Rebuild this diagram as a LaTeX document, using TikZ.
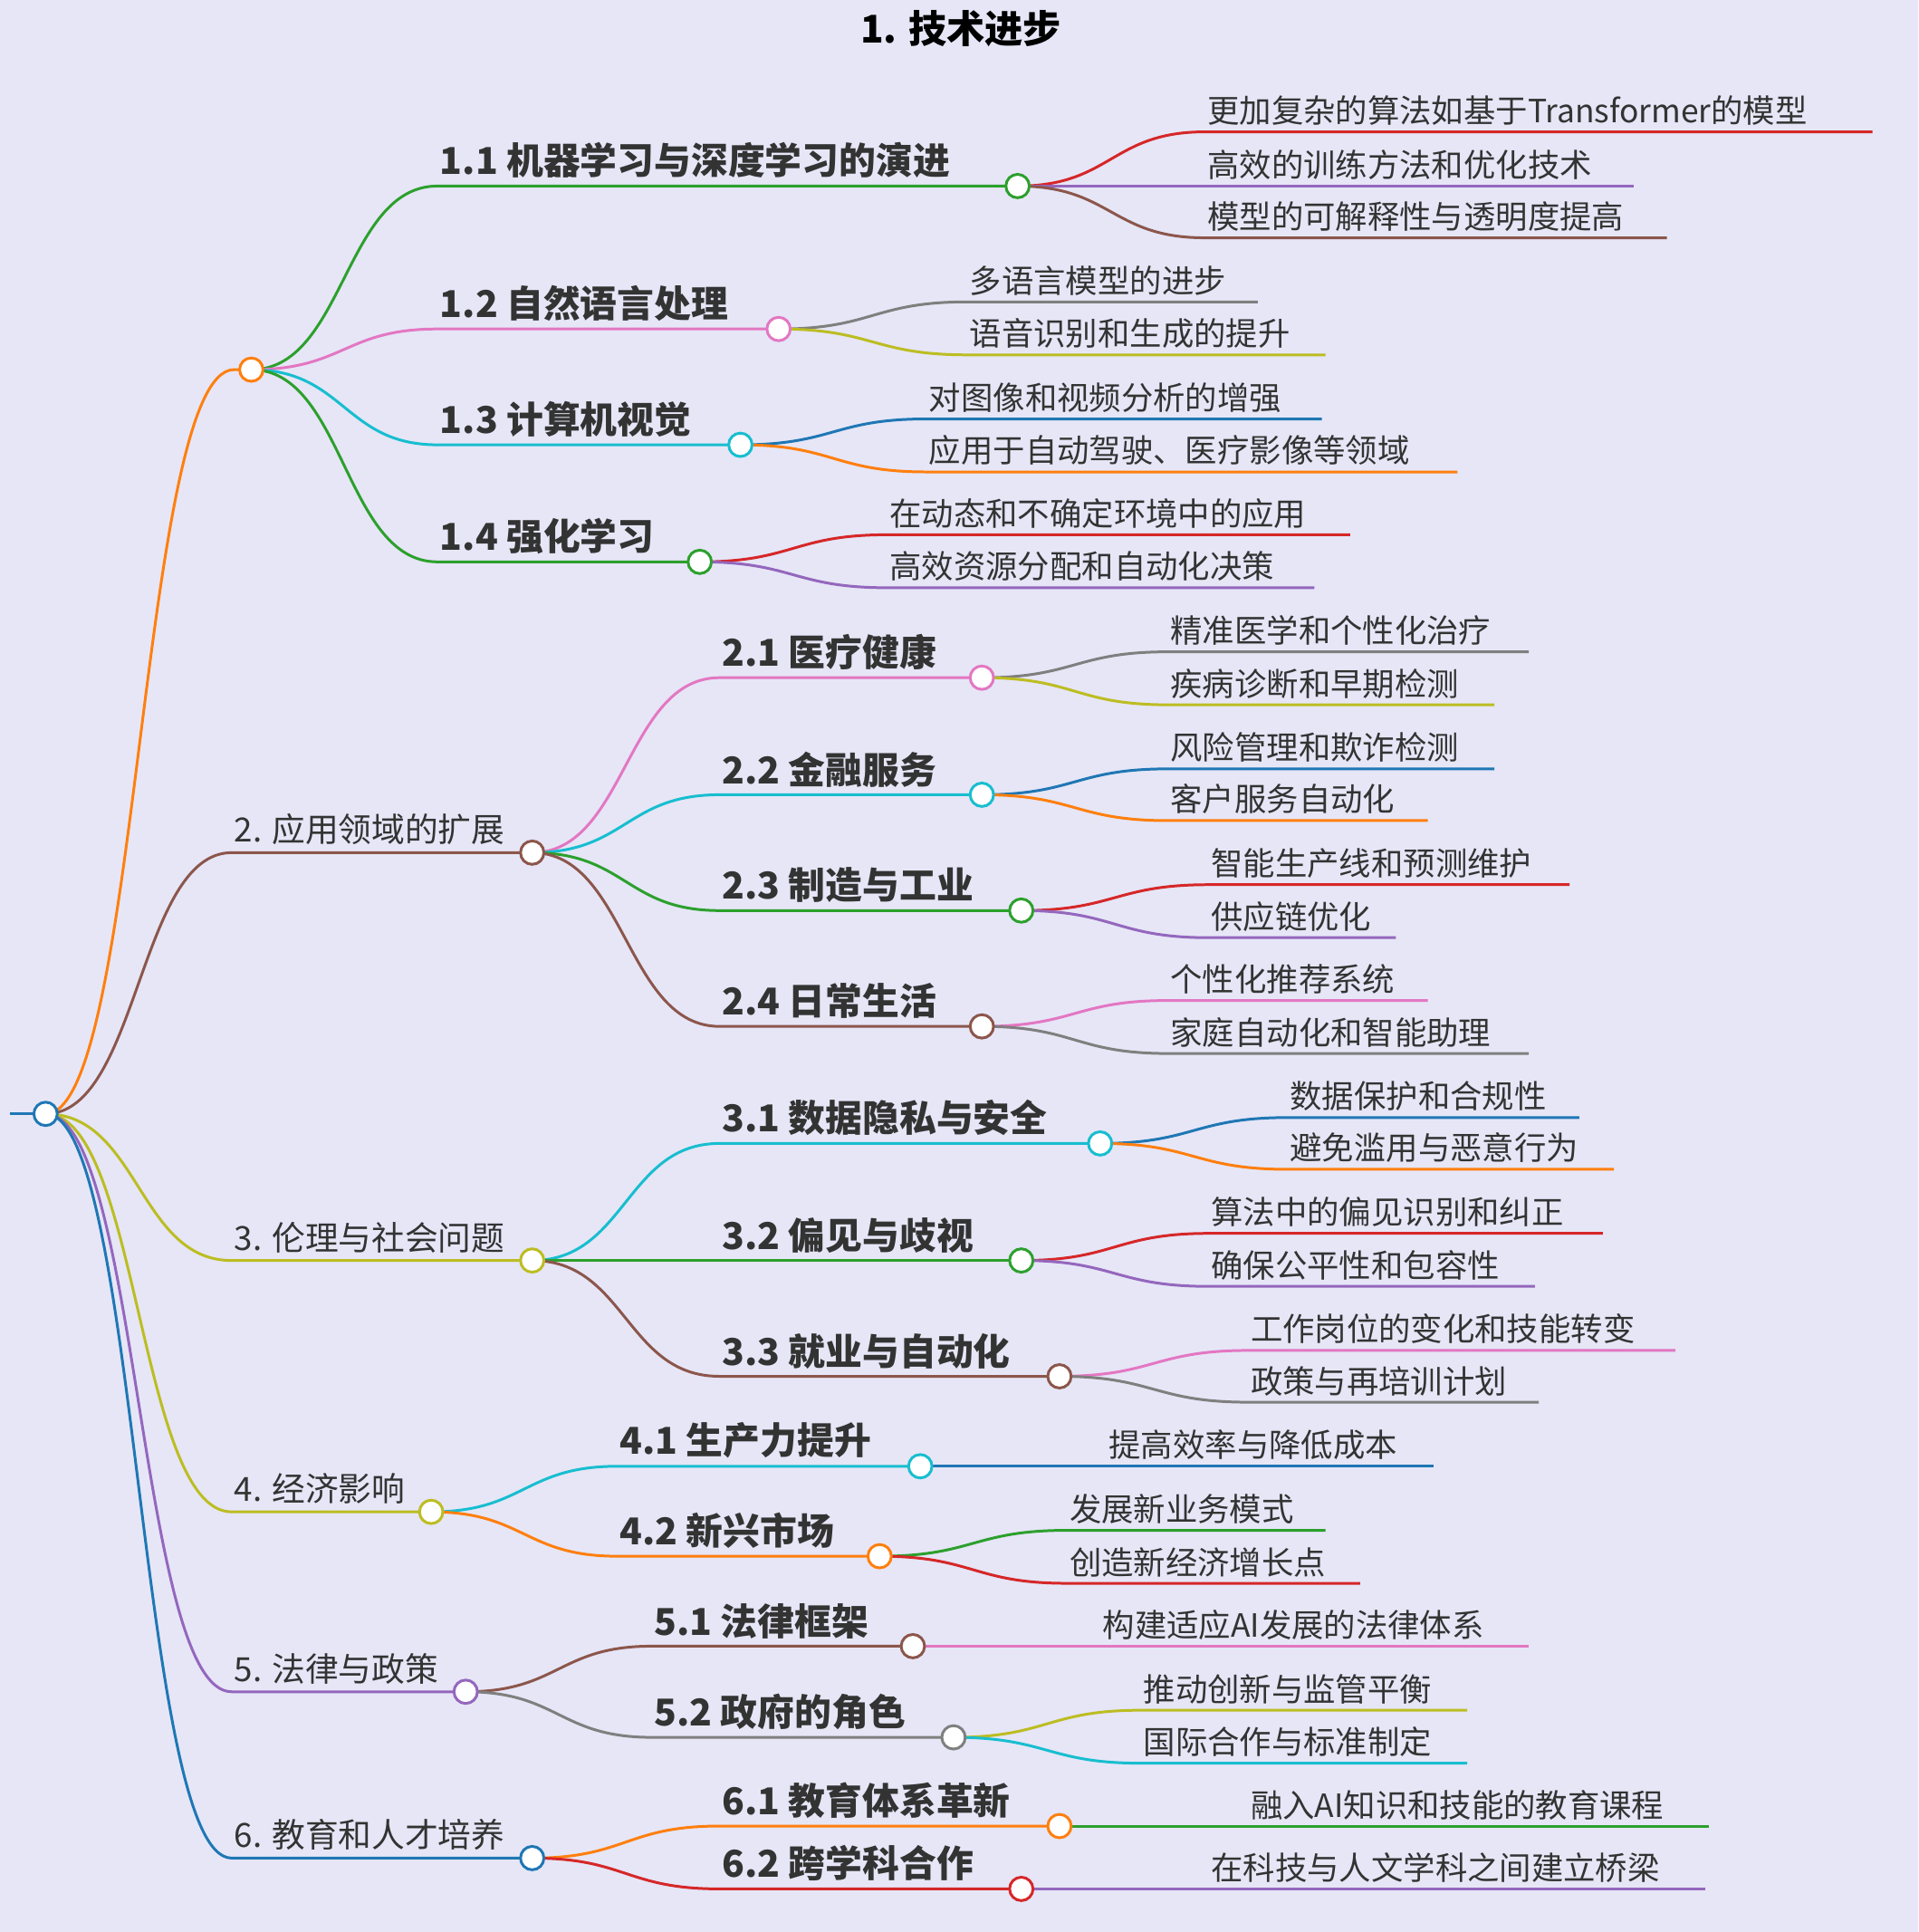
\documentclass[tikz,border=0pt]{standalone}
\usepackage{fontspec}
\setmainfont{Noto Sans CJK SC}
\definecolor{bg}{HTML}{E6E6F7}
\definecolor{cB}{HTML}{1F77B4}\definecolor{cO}{HTML}{FF7F0E}\definecolor{cG}{HTML}{2CA02C}
\definecolor{cR}{HTML}{D62728}\definecolor{cP}{HTML}{9467BD}\definecolor{cN}{HTML}{8C564B}
\definecolor{cK}{HTML}{E377C2}\definecolor{cY}{HTML}{7F7F7F}\definecolor{cL}{HTML}{BCBD22}
\definecolor{cC}{HTML}{17BECF}\definecolor{tx}{HTML}{333333}
\newcommand\mmedge[6]{\draw[#6,line width=2.2pt] (#1,#2) .. controls ({(#1+#3)/2},#2) and ({(#1+#3)/2},#4) .. (#3,#4) -- (#5,#4);}
\newcommand\mmdot[4]{\node[circle,draw=#3,fill=white,line width=2.2pt,minimum size=19pt,inner sep=0] (#4) at (#1,#2) {};}
\tikzset{lone/.style={anchor=south west,inner sep=0,text=tx,font=\fontsize{27}{27}\selectfont},
ltwo/.style={anchor=south west,inner sep=0,text=tx,font=\fontsize{30}{30}\selectfont\bfseries},
leaf/.style={anchor=south west,inner sep=0,text=tx,font=\fontsize{26}{26}\selectfont}}
\begin{document}
\begin{tikzpicture}[x=1pt,y=-1pt]
\fill[bg] (0,0) rectangle (1557,1568);
\useasboundingbox (0,0) rectangle (1557,1568);
\node[anchor=south,inner sep=0,text=black,font=\fontsize{31}{31}\selectfont\bfseries] (title) at (780,38) {1. 技术进步};
% level 1
\draw[cB,line width=2.2pt] (8,904) -- (37,904);
\mmedge{37}{904}{190}{300}{204}{cO}
\mmedge{37}{904}{188}{692}{432}{cN}
\mmedge{37}{904}{188}{1023}{432}{cL}
\mmedge{37}{904}{188}{1227}{350}{cL}
\mmedge{37}{904}{188}{1373}{378}{cP}
\mmedge{37}{904}{188}{1508}{432}{cB}
\node[lone] (n2) at (190,686) {2. 应用领域的扩展};
\node[lone] (n3) at (190,1017) {3. 伦理与社会问题};
\node[lone] (n4) at (190,1221) {4. 经济影响};
\node[lone] (n5) at (190,1367) {5. 法律与政策};
\node[lone] (n6) at (190,1502) {6. 教育和人才培养};
% level 2
\mmedge{204}{300}{355}{151}{826}{cG}\node[ltwo] (n11) at (357,145) {1.1 机器学习与深度学习的演进};
\mmedge{204}{300}{355}{267}{632}{cK}\node[ltwo] (n12) at (357,261) {1.2 自然语言处理};
\mmedge{204}{300}{355}{361}{601}{cC}\node[ltwo] (n13) at (357,355) {1.3 计算机视觉};
\mmedge{204}{300}{355}{456}{568}{cG}\node[ltwo] (n14) at (357,450) {1.4 强化学习};
\mmedge{432}{692}{584}{550}{797}{cK}\node[ltwo] (n21) at (586,544) {2.1 医疗健康};
\mmedge{432}{692}{584}{645}{797}{cC}\node[ltwo] (n22) at (586,639) {2.2 金融服务};
\mmedge{432}{692}{584}{739}{829}{cG}\node[ltwo] (n23) at (586,733) {2.3 制造与工业};
\mmedge{432}{692}{584}{833}{797}{cN}\node[ltwo] (n24) at (586,827) {2.4 日常生活};
\mmedge{432}{1023}{584}{928}{893}{cC}\node[ltwo] (n31) at (586,922) {3.1 数据隐私与安全};
\mmedge{432}{1023}{584}{1023}{829}{cG}\node[ltwo] (n32) at (586,1017) {3.2 偏见与歧视};
\mmedge{432}{1023}{584}{1117}{860}{cN}\node[ltwo] (n33) at (586,1111) {3.3 就业与自动化};
\mmedge{350}{1227}{501}{1190}{747}{cC}\node[ltwo] (n41) at (503,1184) {4.1 生产力提升};
\mmedge{350}{1227}{501}{1263}{714}{cO}\node[ltwo] (n42) at (503,1257) {4.2 新兴市场};
\mmedge{378}{1373}{529}{1336}{741}{cN}\node[ltwo] (n51) at (531,1330) {5.1 法律框架};
\mmedge{378}{1373}{529}{1410}{774}{cY}\node[ltwo] (n52) at (531,1404) {5.2 政府的角色};
\mmedge{432}{1508}{584}{1482}{860}{cO}\node[ltwo] (n61) at (586,1476) {6.1 教育体系革新};
\mmedge{432}{1508}{584}{1533}{829}{cR}\node[ltwo] (n62) at (586,1527) {6.2 跨学科合作};
% leaves
\mmedge{826}{151}{978}{107}{1520}{cR}\node[leaf] at (980,102) {更加复杂的算法如基于Transformer的模型};
\mmedge{826}{151}{978}{151}{1326}{cP}\node[leaf] at (980,146) {高效的训练方法和优化技术};
\mmedge{826}{151}{978}{193}{1353}{cN}\node[leaf] at (980,188) {模型的可解释性与透明度提高};
\mmedge{632}{267}{785}{245}{1021}{cY}\node[leaf] at (787,240) {多语言模型的进步};
\mmedge{632}{267}{785}{288}{1076}{cL}\node[leaf] at (787,283) {语音识别和生成的提升};
\mmedge{601}{361}{752}{340}{1073}{cB}\node[leaf] at (754,335) {对图像和视频分析的增强};
\mmedge{601}{361}{752}{383}{1183}{cO}\node[leaf] at (754,378) {应用于自动驾驶、医疗影像等领域};
\mmedge{568}{456}{720}{434}{1096}{cR}\node[leaf] at (722,429) {在动态和不确定环境中的应用};
\mmedge{568}{456}{720}{477}{1067}{cP}\node[leaf] at (722,472) {高效资源分配和自动化决策};
\mmedge{797}{550}{948}{529}{1241}{cY}\node[leaf] at (950,524) {精准医学和个性化治疗};
\mmedge{797}{550}{948}{572}{1213}{cL}\node[leaf] at (950,567) {疾病诊断和早期检测};
\mmedge{797}{645}{948}{624}{1213}{cB}\node[leaf] at (950,619) {风险管理和欺诈检测};
\mmedge{797}{645}{948}{666}{1159}{cO}\node[leaf] at (950,661) {客户服务自动化};
\mmedge{829}{739}{981}{718}{1274}{cR}\node[leaf] at (983,713) {智能生产线和预测维护};
\mmedge{829}{739}{981}{761}{1133}{cP}\node[leaf] at (983,756) {供应链优化};
\mmedge{797}{833}{948}{812}{1159}{cK}\node[leaf] at (950,807) {个性化推荐系统};
\mmedge{797}{833}{948}{855}{1241}{cY}\node[leaf] at (950,850) {家庭自动化和智能助理};
\mmedge{893}{928}{1045}{907}{1282}{cB}\node[leaf] at (1047,902) {数据保护和合规性};
\mmedge{893}{928}{1045}{949}{1310}{cO}\node[leaf] at (1047,944) {避免滥用与恶意行为};
\mmedge{829}{1023}{981}{1001}{1301}{cR}\node[leaf] at (983,996) {算法中的偏见识别和纠正};
\mmedge{829}{1023}{981}{1044}{1246}{cP}\node[leaf] at (983,1039) {确保公平性和包容性};
\mmedge{860}{1117}{1013}{1096}{1360}{cK}\node[leaf] at (1015,1091) {工作岗位的变化和技能转变};
\mmedge{860}{1117}{1013}{1138}{1249}{cY}\node[leaf] at (1015,1133) {政策与再培训计划};
\mmedge{747}{1190}{898}{1190}{1164}{cB}\node[leaf] at (900,1185) {提高效率与降低成本};
\mmedge{714}{1263}{866}{1242}{1076}{cG}\node[leaf] at (868,1237) {发展新业务模式};
\mmedge{714}{1263}{866}{1285}{1104}{cR}\node[leaf] at (868,1280) {创造新经济增长点};
\mmedge{741}{1336}{893}{1336}{1241}{cK}\node[leaf] at (895,1331) {构建适应AI发展的法律体系};
\mmedge{774}{1410}{926}{1388}{1191}{cL}\node[leaf] at (928,1383) {推动创新与监管平衡};
\mmedge{774}{1410}{926}{1431}{1191}{cC}\node[leaf] at (928,1426) {国际合作与标准制定};
\mmedge{860}{1482}{1013}{1482}{1387}{cG}\node[leaf] at (1015,1477) {融入AI知识和技能的教育课程};
\mmedge{829}{1533}{981}{1533}{1384}{cP}\node[leaf] at (983,1528) {在科技与人文学科之间建立桥梁};
% dots
\mmdot{37}{904}{cB}{d0}
\mmdot{204}{300}{cO}{d1}\mmdot{432}{692}{cN}{d2}\mmdot{432}{1023}{cL}{d3}
\mmdot{350}{1227}{cL}{d4}\mmdot{378}{1373}{cP}{d5}\mmdot{432}{1508}{cB}{d6}
\mmdot{826}{151}{cG}{d11}\mmdot{632}{267}{cK}{d12}\mmdot{601}{361}{cC}{d13}\mmdot{568}{456}{cG}{d14}
\mmdot{797}{550}{cK}{d21}\mmdot{797}{645}{cC}{d22}\mmdot{829}{739}{cG}{d23}\mmdot{797}{833}{cN}{d24}
\mmdot{893}{928}{cC}{d31}\mmdot{829}{1023}{cG}{d32}\mmdot{860}{1117}{cN}{d33}
\mmdot{747}{1190}{cC}{d41}\mmdot{714}{1263}{cO}{d42}
\mmdot{741}{1336}{cN}{d51}\mmdot{774}{1410}{cY}{d52}
\mmdot{860}{1482}{cO}{d61}\mmdot{829}{1533}{cR}{d62}
\end{tikzpicture}
\end{document}
